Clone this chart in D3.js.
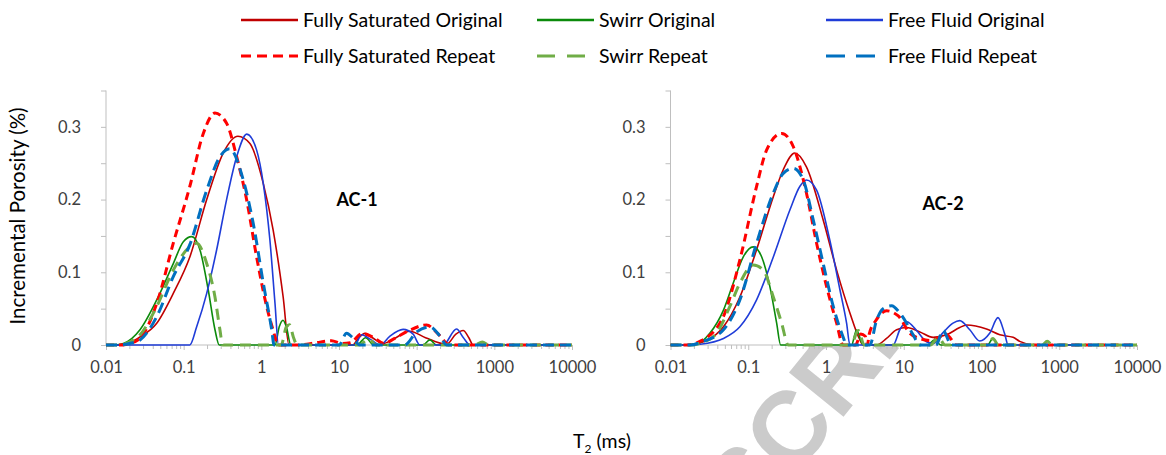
<!DOCTYPE html>
<html>
<head>
<meta charset="utf-8">
<script src="https://cdn.jsdelivr.net/npm/d3@7"></script>
<style>
  body { margin: 0; background: #fff; }
  svg { display: block; font-family: Lato, "Open Sans", sans-serif; }
  .axis text { font-size: 16.5px; fill: #404040; font-family: Lato, sans-serif; }
  .axis line { stroke: #bfbfbf; }
  .axis path { display: none; }
</style>
</head>
<body>
<script>
// chart size
var width = 1166, height = 455;

// x axis ticks (T2, ms)
var decades = [0.01, 0.1, 1, 10, 100, 1000, 10000];
var decadeLabels = ['0.01', '0.1', '1', '10', '100', '1000', '10000'];
// y axis ticks (incremental porosity, %)
var yTicks = [0, 0.1, 0.2, 0.3];
var yTickLabels = ['0', '0.1', '0.2', '0.3'];
var yMinor = [0.05, 0.15, 0.25, 0.35];

var seriesNames = ['Fully Saturated Original', 'Swirr Original', 'Free Fluid Original',
                   'Fully Saturated Repeat', 'Swirr Repeat', 'Free Fluid Repeat'];

// ---- AC-1 : [T2 (ms), porosity (%)] ----
var ac1FullySatOrig = [[0.01,0],[0.015,0],[0.02,0.003],[0.0274,0.011],[0.045,0.03],[0.0735,0.071],[0.12,0.121],
  [0.198,0.2],[0.323,0.264],[0.5,0.287],[0.713,0.277],[1.06,0.222],[1.42,0.158],[1.91,0.066],[2.27,0],
  [15,0],[18,0.01],[21.5,0.016],[27,0.01],[37,0.002],[50,0.008],[82,0.019],[130,0.01],[243,0.001],
  [320,0.015],[397,0.02],[470,0.01],[533,0],[10000,0]];
var ac1SwirrOrig = [[0.01,0],[0.013,0],[0.0167,0.002],[0.0274,0.021],[0.045,0.062],[0.0735,0.112],[0.099,0.142],
  [0.127,0.149],[0.162,0.131],[0.207,0.076],[0.253,0.021],[0.287,0],[1.5,0],[1.7,0.025],[1.9,0.034],[2.1,0.025],
  [2.4,0],[17,0],[22,0.01],[28,0],[120,0],[148,0.007],[180,0],[10000,0]];
var ac1FreeFluidOrig = [[0.01,0],[0.12,0],[0.147,0.025],[0.198,0.071],[0.266,0.131],[0.357,0.2],[0.481,0.259],
  [0.65,0.29],[0.87,0.268],[1.06,0.222],[1.29,0.144],[1.5,0.057],[1.66,0],[16,0],[19.5,0.014],[26,0.007],
  [34,0],[45,0.012],[67,0.0215],[90,0.015],[110,0],[219,0],[326,0.022],[400,0.01],[484,0],[10000,0]];
var ac1FullySatRep = [[0.01,0],[0.015,0],[0.02,0.002],[0.0274,0.009],[0.045,0.057],[0.0735,0.14],[0.12,0.218],
  [0.179,0.291],[0.253,0.319],[0.357,0.305],[0.481,0.259],[0.646,0.2],[0.87,0.121],[1.17,0.053],[1.5,0.011],
  [1.6,0],[3,0],[5,0.003],[8,0.006],[11,0.002],[14,0.003],[20,0.016],[28,0.01],[38,0.002],[50,0.008],
  [80,0.02],[134,0.0275],[190,0.015],[267,0],[10000,0]];
var ac1SwirrRep = [[0.01,0],[0.015,0],[0.02,0.004],[0.0274,0.014],[0.045,0.053],[0.0735,0.103],[0.12,0.135],
  [0.147,0.14],[0.198,0.112],[0.253,0.066],[0.293,0.021],[0.318,0],[1.8,0],[2.1,0.025],[2.3,0.028],[2.6,0.01],
  [2.9,0],[18,0],[24,0.008],[30,0],[550,0],[700,0.004],[850,0],[10000,0]];
var ac1FreeFluidRep = [[0.01,0],[0.015,0],[0.02,0.002],[0.0274,0.007],[0.045,0.039],[0.0735,0.094],[0.12,0.138],
  [0.198,0.213],[0.293,0.259],[0.39,0.27],[0.585,0.227],[0.787,0.167],[1.06,0.085],[1.36,0.021],[1.46,0],
  [10,0],[12.5,0.016],[15,0.01],[18.6,0],[70,0],[100,0.018],[148,0.025],[200,0.012],[243,0],[10000,0]];

// ---- AC-2 : [T2 (ms), porosity (%)] ----
var ac2FullySatOrig = [[0.01,0],[0.016,0],[0.022,0.002],[0.029,0.006],[0.048,0.025],[0.078,0.066],[0.128,0.131],
  [0.21,0.204],[0.282,0.241],[0.398,0.264],[0.56,0.245],[0.92,0.172],[1.37,0.103],[2.03,0.044],[2.73,0.007],
  [3.0,0],[4.47,0],[6.0,0.009],[8.1,0.021],[10.9,0.024],[16.1,0.018],[23.9,0.0105],[35.5,0.014],[52.5,0.024],
  [64,0.0275],[116,0.022],[172,0.014],[255,0.0105],[310,0.005],[480,0],[10000,0]];
var ac2SwirrOrig = [[0.01,0],[0.016,0],[0.0217,0.001],[0.032,0.016],[0.048,0.048],[0.064,0.085],[0.086,0.121],
  [0.116,0.135],[0.149,0.121],[0.19,0.08],[0.232,0.03],[0.261,0],[2.13,0],[2.47,0.0206],[3.0,0],
  [20,0],[25,0.007],[30,0],[120,0],[140,0.009],[165,0],[10000,0]];
var ac2FreeFluidOrig = [[0.01,0],[0.018,0],[0.024,0.001],[0.048,0.009],[0.078,0.025],[0.128,0.062],[0.21,0.121],
  [0.344,0.186],[0.46,0.218],[0.56,0.227],[0.757,0.213],[1.12,0.144],[1.51,0.076],[1.84,0.03],[2.03,0],
  [7.3,0],[8.9,0.021],[10.9,0.032],[14.6,0.02],[19.6,0.0045],[23.9,0.002],[32,0.017],[43,0.03],[52.5,0.0335],
  [70.7,0.021],[95,0.0055],[128,0.0165],[163,0.0376],[199,0.015],[220,0],[10000,0]];
var ac2FullySatRep = [[0.01,0],[0.016,0],[0.025,0.006],[0.0478,0.039],[0.078,0.117],[0.128,0.218],[0.172,0.268],
  [0.269,0.291],[0.379,0.273],[0.56,0.209],[0.757,0.14],[1.02,0.08],[1.37,0.03],[1.66,0],[2.4,0],[2.8,0.015],
  [3.2,0.012],[3.4,0],[3.6,0.015],[4.4,0.034],[6.0,0.047],[8.5,0.04],[12,0.016],[16.1,0.009],[22,0.006],
  [35.5,0.014],[48,0],[10000,0]];
var ac2SwirrRep = [[0.01,0],[0.018,0],[0.025,0.003],[0.039,0.016],[0.058,0.053],[0.078,0.085],[0.116,0.11],
  [0.156,0.103],[0.21,0.066],[0.269,0.03],[0.327,0],[2.1,0],[2.6,0.02],[3.1,0],[22,0],[28,0.01],[34,0],
  [120,0],[140,0.009],[165,0],[600,0],[700,0.005],[820,0],[10000,0]];
var ac2FreeFluidRep = [[0.01,0],[0.018,0],[0.025,0.004],[0.048,0.021],[0.078,0.062],[0.128,0.14],[0.21,0.209],
  [0.282,0.236],[0.379,0.243],[0.51,0.227],[0.685,0.172],[0.92,0.112],[1.24,0.053],[1.66,0.011],[1.84,0],
  [3.66,0],[4.47,0.034],[5.43,0.05],[6.97,0.054],[8.9,0.044],[10.9,0.03],[13.2,0.014],[16.1,0],[26,0],
  [32,0.02],[41,0],[10000,0]];

// styles per series (same order as seriesNames)
var colors = ['#c00000', '#0b8a0b', '#1f3cd8', '#ff0000', '#70ad47', '#0070c0'];
var widths = [1.6, 1.6, 1.6, 3, 3, 3];
var dashes = [null, null, null, '8,5', '11,7', '11,6'];
var legendDashes = [null, null, null, '10,6', '18,12', '19,11'];

var svg = d3.select('body').append('svg')
  .attr('width', width)
  .attr('height', height);

svg.append('rect').attr('width', width).attr('height', height).attr('fill', '#fff');

// faint "ACCEPTED MANUSCRIPT" stamp, only visible below the plot areas
svg.append('defs').append('clipPath').attr('id', 'wmclip')
  .append('rect').attr('x', 0).attr('y', 346).attr('width', width).attr('height', 120);
var wm = svg.append('g').attr('clip-path', 'url(#wmclip)')
  .append('g').attr('transform', 'translate(750,532) rotate(-51)')
  .style('font-family', '"Liberation Sans", Arial, sans-serif')
  .style('font-weight', 'bold')
  .style('font-size', '102px')
  .attr('fill', '#cbcbcb');
wm.append('text').attr('text-anchor', 'end').text('ACCEPTED MANU');
wm.append('text').attr('text-anchor', 'start').text('SCRIPT');

var panels = [
  {label: 'AC-1', left: 106, right: 572, labelX: 357, labelY: 206,
   data: [ac1FullySatOrig, ac1SwirrOrig, ac1FreeFluidOrig, ac1FullySatRep, ac1SwirrRep, ac1FreeFluidRep]},
  {label: 'AC-2', left: 670.5, right: 1137, labelX: 943, labelY: 210,
   data: [ac2FullySatOrig, ac2SwirrOrig, ac2FreeFluidOrig, ac2FullySatRep, ac2SwirrRep, ac2FreeFluidRep]}
];

var minorX = [];
decades.slice(0, -1).forEach(function(d) {
  for (var k = 2; k < 10; k++) minorX.push(d * k);
});

var yScale = d3.scaleLinear().domain([0, 0.35]).range([345, 90.5]);

panels.forEach(function(p) {
  var x = d3.scaleLog().domain([0.01, 10000]).range([p.left, p.right]);
  var g = svg.append('g');

  // plot area covers the stamp
  g.append('rect').attr('x', p.left).attr('y', yScale(0.35))
    .attr('width', p.right - p.left + 2).attr('height', yScale(0) - yScale(0.35))
    .attr('fill', '#fff');

  // axis lines
  g.append('line').attr('x1', p.left).attr('x2', p.left)
    .attr('y1', yScale(0.35)).attr('y2', yScale(0))
    .attr('stroke', '#bfbfbf');
  g.append('line').attr('x1', p.left).attr('x2', p.right)
    .attr('y1', yScale(0)).attr('y2', yScale(0))
    .attr('stroke', '#bfbfbf');

  g.append('g').attr('class', 'axis')
    .attr('transform', 'translate(0,' + yScale(0) + ')')
    .call(d3.axisBottom(x).tickValues(minorX).tickSize(4).tickFormat(''));
  g.append('g').attr('class', 'axis')
    .attr('transform', 'translate(0,' + yScale(0) + ')')
    .call(d3.axisBottom(x).tickValues(decades).tickSize(5).tickPadding(11)
      .tickFormat(function(d, i) { return decadeLabels[i]; }));

  g.append('g').attr('class', 'axis')
    .attr('transform', 'translate(' + p.left + ',0)')
    .call(d3.axisLeft(yScale).tickValues(yMinor).tickSize(5).tickFormat(''));
  g.append('g').attr('class', 'axis')
    .attr('transform', 'translate(' + p.left + ',0)')
    .call(d3.axisLeft(yScale).tickValues(yTicks).tickSize(5).tickPadding(20)
      .tickFormat(function(d, i) { return yTickLabels[i]; }));

  var line = d3.line()
    .x(function(d) { return x(d[0]); })
    .y(function(d) { return yScale(d[1]); })
    .curve(d3.curveMonotoneX);

  g.selectAll('path.series')
    .data(p.data)
    .enter()
    .append('path')
    .attr('class', 'series')
    .attr('d', line)
    .attr('fill', 'none')
    .attr('stroke', function(d, i) { return colors[i]; })
    .attr('stroke-width', function(d, i) { return widths[i]; })
    .attr('stroke-dasharray', function(d, i) { return dashes[i]; })
    .attr('stroke-linejoin', 'round');

  g.append('text')
    .attr('x', p.labelX).attr('y', p.labelY)
    .attr('text-anchor', 'middle')
    .style('font-size', '18px').style('font-weight', 'bold')
    .attr('fill', '#000')
    .text(p.label);
});

// axis titles
svg.append('text')
  .attr('transform', 'translate(25,216) rotate(-90)')
  .attr('text-anchor', 'middle')
  .style('font-size', '20.5px').attr('fill', '#000')
  .text('Incremental Porosity (%)');

var xt = svg.append('text')
  .attr('x', 602).attr('y', 448)
  .attr('text-anchor', 'middle')
  .style('font-size', '19.5px').attr('fill', '#000');
xt.append('tspan').text('T');
xt.append('tspan').attr('dy', 5).style('font-size', '12px').text('2');
xt.append('tspan').attr('dy', -5).text(' (ms)');

// legend: two rows, three columns
var legendCols = [241, 537, 826];
var legendRows = [20, 56];
var legend = svg.append('g').selectAll('g')
  .data(seriesNames)
  .enter()
  .append('g')
  .attr('transform', function(d, i) {
    return 'translate(' + legendCols[i % 3] + ',' + legendRows[Math.floor(i / 3)] + ')';
  });
legend.append('line')
  .attr('x1', 0).attr('x2', 57)
  .attr('stroke', function(d, i) { return colors[i]; })
  .attr('stroke-width', function(d, i) { return i < 3 ? 2.5 : 3; })
  .attr('stroke-dasharray', function(d, i) { return legendDashes[i]; });
legend.append('text')
  .attr('x', 62).attr('y', 7)
  .style('font-size', '19.5px').attr('fill', '#000')
  .text(function(d) { return d; });
</script>
</body>
</html>
